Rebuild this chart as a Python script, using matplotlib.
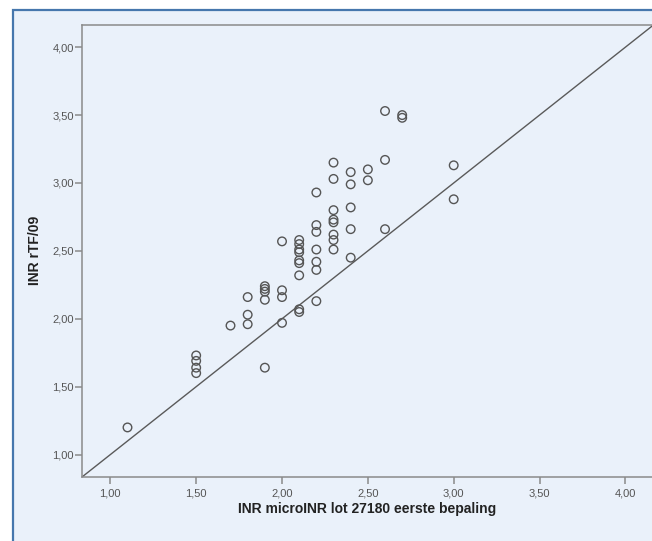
import matplotlib
matplotlib.use("Agg")
import matplotlib.pyplot as plt
from matplotlib.patches import Rectangle

plt.rcParams.update({
    "font.family": ["Liberation Sans", "DejaVu Sans"],
})

BG = "#eaf1fa"
BORDER = "#4677ad"
SPINE = "#8a8a8a"
MARK = "#555555"

# ---------------------------------------------------------------- data
# microINR (x) vs rTF/09 (y)
x_micro = [1.1,
           1.5, 1.5, 1.5, 1.5,
           1.7,
           1.8, 1.8, 1.8,
           1.9, 1.9, 1.9, 1.9, 1.9,
           2.0, 2.0, 2.0, 2.0,
           2.1, 2.1, 2.1, 2.1, 2.1, 2.1, 2.1, 2.1, 2.1,
           2.2, 2.2, 2.2, 2.2, 2.2, 2.2, 2.2,
           2.3, 2.3, 2.3, 2.3, 2.3, 2.3, 2.3, 2.3,
           2.4, 2.4, 2.4, 2.4, 2.4,
           2.5, 2.5,
           2.6, 2.6, 2.6,
           2.7, 2.7,
           3.0, 3.0]
y_rtf = [1.20,
         1.73, 1.69, 1.64, 1.60,
         1.95,
         2.16, 2.03, 1.96,
         2.24, 2.22, 2.20, 2.14, 1.64,
         2.57, 2.21, 2.16, 1.97,
         2.58, 2.55, 2.51, 2.49, 2.43, 2.41, 2.32, 2.07, 2.05,
         2.93, 2.69, 2.64, 2.51, 2.42, 2.36, 2.13,
         3.15, 3.03, 2.80, 2.73, 2.71, 2.62, 2.58, 2.51,
         3.08, 2.99, 2.82, 2.66, 2.45,
         3.10, 3.02,
         3.53, 3.17, 2.66,
         3.50, 3.48,
         3.13, 2.88]

ticks = [1.0, 1.5, 2.0, 2.5, 3.0, 3.5, 4.0]
tick_labels = ["1,00", "1,50", "2,00", "2,50", "3,00", "3,50", "4,00"]

# ---------------------------------------------------------------- figure
fig = plt.figure(figsize=(6.52, 5.41), dpi=100, facecolor="white")

# SPSS-style chart frame
fig.patches.append(Rectangle((13 / 652, -0.05), 1.1, 1 - 10 / 541 + 0.05,
                             transform=fig.transFigure, facecolor=BG,
                             edgecolor=BORDER, lw=1.6, zorder=-5))

ax = fig.add_axes([82 / 652, 1 - 477 / 541, 1 - 82 / 652, (477 - 24.5) / 541])
ax.set_zorder(2)
ax.set_facecolor(BG)
ax.set_xlim(0.835, 4.155)
ax.set_ylim(0.835, 4.167)

ax.axline((1.0, 1.0), slope=1.0, color="#5a5a5a", lw=1.0, zorder=2)
ax.scatter(x_micro, y_rtf, s=38, facecolors="none", edgecolors=MARK,
           linewidths=1.0, zorder=3)

ax.set_xticks(ticks)
ax.set_xticklabels(tick_labels)
ax.set_yticks(ticks)
ax.set_yticklabels(tick_labels)
ax.tick_params(direction="out", length=5, width=1.1, color=SPINE,
               labelsize=8, labelcolor="#555555")
ax.tick_params(axis="y", pad=1)
ax.tick_params(axis="x", pad=3)

for side in ("left", "bottom", "top"):
    ax.spines[side].set_color(SPINE)
    ax.spines[side].set_linewidth(1.1)
ax.spines["right"].set_visible(False)

ax.set_xlabel("INR microINR lot 27180 eerste bepaling", fontsize=10,
              fontweight="bold", color="#222222", labelpad=3)
ax.set_ylabel("INR rTF/09", fontsize=10, fontweight="bold", color="#222222",
              labelpad=7)

fig.savefig("out.png", dpi=100, facecolor="white")
